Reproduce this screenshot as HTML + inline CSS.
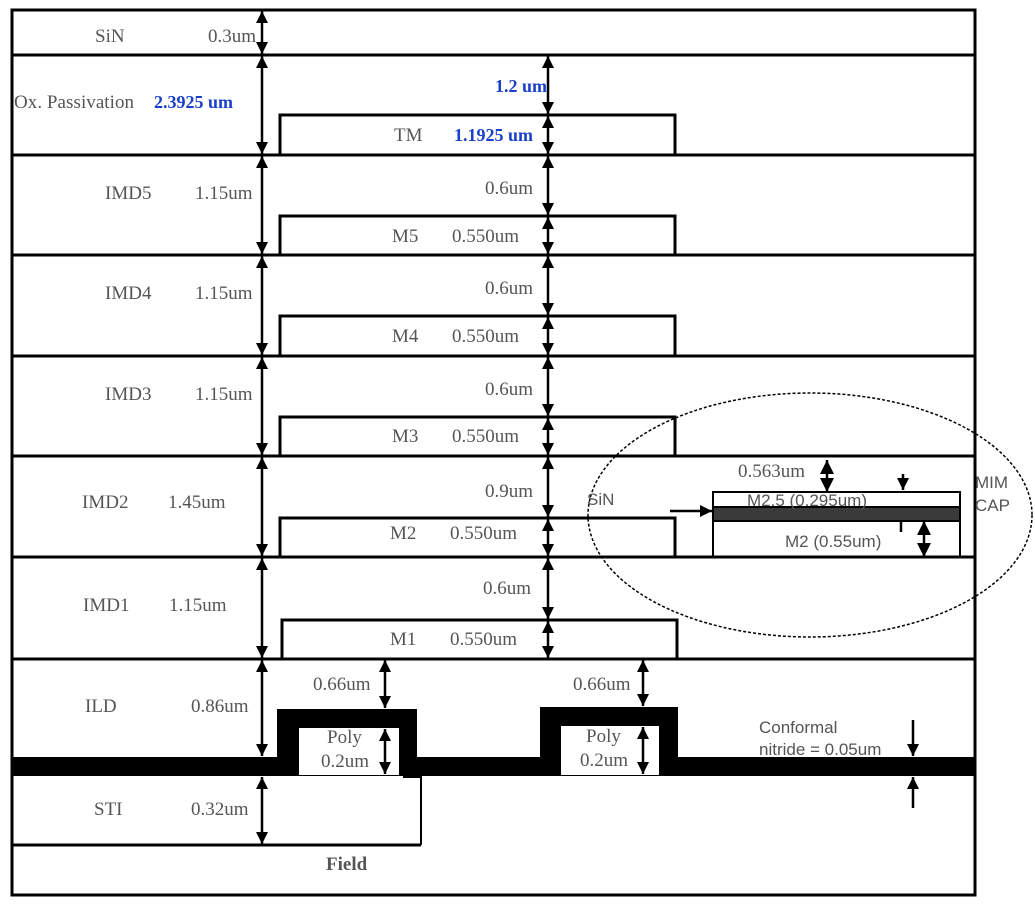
<!DOCTYPE html>
<html><head><meta charset="utf-8"><style>
html,body{margin:0;padding:0;background:#fff;}
svg{display:block}
.t{font-family:"Liberation Serif",serif;font-size:19px;fill:#555}
.b{font-family:"Liberation Serif",serif;font-size:18px;font-weight:bold;fill:#1a3fc8}
.s{font-family:"Liberation Sans",sans-serif;font-size:17px;fill:#555}
</style></head><body>
<svg width="1035" height="908" viewBox="0 0 1035 908" xmlns="http://www.w3.org/2000/svg">
<defs>
<marker id="A" viewBox="0 0 10 10" refX="10" refY="5" markerWidth="12" markerHeight="12" orient="auto-start-reverse" markerUnits="userSpaceOnUse"><path d="M0,0L10,5L0,10z" fill="#000"/></marker>
<marker id="S" viewBox="0 0 10 10" refX="10" refY="5" markerWidth="14" markerHeight="14" orient="auto-start-reverse" markerUnits="userSpaceOnUse"><path d="M0,0L10,5L0,10z" fill="#000"/></marker>
</defs>
<g stroke="#000" stroke-width="3" fill="none">
<rect x="12" y="10" width="963" height="885"/>
<line x1="12" y1="55" x2="975" y2="55"/>
<line x1="12" y1="155" x2="975" y2="155"/>
<line x1="12" y1="255" x2="975" y2="255"/>
<line x1="12" y1="356" x2="975" y2="356"/>
<line x1="12" y1="456" x2="975" y2="456"/>
<line x1="12" y1="557" x2="975" y2="557"/>
<line x1="12" y1="659" x2="975" y2="659"/>
<line x1="12" y1="845" x2="421" y2="845"/>
<line x1="421" y1="775" x2="421" y2="845" stroke-width="2"/>
<polyline points="280,155 280,115 675,115 675,155"/>
<polyline points="280,255 280,216 675,216 675,255"/>
<polyline points="280,356 280,316 675,316 675,356"/>
<polyline points="280,456 280,417 675,417 675,456"/>
<polyline points="280,557 280,518 675,518 675,557"/>
<polyline points="282,659 282,620 677,620 677,659"/>
</g>
<g fill="#000">
<rect x="12" y="757" width="963" height="19"/>
<rect x="277" y="709" width="140" height="66"/>
<rect x="403" y="770" width="18" height="8"/>
<rect x="540" y="707" width="138" height="68"/>
</g>
<g fill="#fff">
<rect x="299" y="728" width="100" height="47"/>
<rect x="561" y="726" width="98" height="49"/>
</g>
<g stroke="#000" stroke-width="2.5" marker-start="url(#A)" marker-end="url(#A)">
<line x1="262" y1="11" x2="262" y2="54"/>
<line x1="262" y1="56" x2="262" y2="154"/>
<line x1="262" y1="156" x2="262" y2="254"/>
<line x1="262" y1="256" x2="262" y2="355"/>
<line x1="262" y1="357" x2="262" y2="455"/>
<line x1="262" y1="457" x2="262" y2="556"/>
<line x1="262" y1="558" x2="262" y2="658"/>
<line x1="262" y1="660" x2="262" y2="756"/>
<line x1="262" y1="777" x2="262" y2="844"/>
<line x1="548" y1="56" x2="548" y2="114"/>
<line x1="548" y1="116" x2="548" y2="154"/>
<line x1="548" y1="156" x2="548" y2="215"/>
<line x1="548" y1="217" x2="548" y2="254"/>
<line x1="548" y1="256" x2="548" y2="315"/>
<line x1="548" y1="317" x2="548" y2="355"/>
<line x1="548" y1="357" x2="548" y2="416"/>
<line x1="548" y1="418" x2="548" y2="455"/>
<line x1="548" y1="457" x2="548" y2="517"/>
<line x1="548" y1="519" x2="548" y2="556"/>
<line x1="548" y1="558" x2="548" y2="619"/>
<line x1="548" y1="621" x2="548" y2="658"/>
<line x1="385" y1="660" x2="385" y2="708"/>
<line x1="385" y1="729" x2="385" y2="774"/>
<line x1="643" y1="660" x2="643" y2="706"/>
<line x1="643" y1="727" x2="643" y2="774"/>
</g>
<g stroke="#000" stroke-width="2.5" marker-end="url(#S)">
<line x1="827" y1="476" x2="827" y2="460"/>
<line x1="827" y1="476" x2="827" y2="492"/>
<line x1="924" y1="538" x2="924" y2="521"/>
<line x1="924" y1="538" x2="924" y2="557"/>
</g>
<g stroke="#000" stroke-width="2.5" marker-end="url(#A)">
<line x1="913" y1="720" x2="913" y2="756"/>
<line x1="913" y1="808" x2="913" y2="777"/>
<line x1="903" y1="474" x2="903" y2="490"/>
<line x1="901" y1="532" x2="901" y2="506"/>
<line x1="670" y1="511" x2="712" y2="511"/>
</g>
<rect x="713" y="492" width="247" height="65" fill="none" stroke="#000" stroke-width="2"/>
<rect x="713" y="507" width="247" height="14" fill="#3a3a3a" stroke="#000" stroke-width="2"/>
<ellipse cx="810" cy="515" rx="222" ry="122" fill="none" stroke="#000" stroke-width="1.5" stroke-dasharray="3,2"/>
<text class="t" x="95" y="42">SiN</text>
<text class="t" x="208" y="42">0.3um</text>
<text class="t" x="14" y="108" textLength="120">Ox. Passivation</text>
<text class="b" x="154" y="108">2.3925 um</text>
<text class="b" x="495" y="92">1.2 um</text>
<text class="t" x="394" y="141">TM</text>
<text class="b" x="454" y="141">1.1925 um</text>
<text class="t" x="105" y="199">IMD5</text><text class="t" x="195" y="199">1.15um</text>
<text class="t" x="485" y="194">0.6um</text>
<text class="t" x="392" y="242">M5</text><text class="t" x="452" y="242">0.550um</text>
<text class="t" x="105" y="299">IMD4</text><text class="t" x="195" y="299">1.15um</text>
<text class="t" x="485" y="294">0.6um</text>
<text class="t" x="392" y="342">M4</text><text class="t" x="452" y="342">0.550um</text>
<text class="t" x="105" y="400">IMD3</text><text class="t" x="195" y="400">1.15um</text>
<text class="t" x="485" y="395">0.6um</text>
<text class="t" x="392" y="442">M3</text><text class="t" x="452" y="442">0.550um</text>
<text class="t" x="82" y="508">IMD2</text><text class="t" x="168" y="508">1.45um</text>
<text class="t" x="485" y="497">0.9um</text>
<text class="t" x="390" y="539">M2</text><text class="t" x="450" y="539">0.550um</text>
<text class="t" x="83" y="611">IMD1</text><text class="t" x="169" y="611">1.15um</text>
<text class="t" x="483" y="594">0.6um</text>
<text class="t" x="390" y="645">M1</text><text class="t" x="450" y="645">0.550um</text>
<text class="t" x="85" y="712">ILD</text><text class="t" x="191" y="712">0.86um</text>
<text class="t" x="313" y="690">0.66um</text>
<text class="t" x="573" y="690">0.66um</text>
<text class="t" x="327" y="743">Poly</text><text class="t" x="321" y="767">0.2um</text>
<text class="t" x="586" y="742">Poly</text><text class="t" x="580" y="766">0.2um</text>
<text class="t" x="94" y="815">STI</text><text class="t" x="191" y="815">0.32um</text>
<text class="t" x="326" y="870" style="font-weight:bold">Field</text>
<text class="t" x="738" y="477">0.563um</text>
<text class="s" x="587" y="505">SiN</text>
<text class="s" x="747" y="506">M2.5 (0.295um)</text>
<text class="s" x="785" y="547">M2 (0.55um)</text>
<text class="s" x="975" y="488">MIM</text>
<text class="s" x="975" y="511">CAP</text>
<text class="s" x="759" y="733">Conformal</text>
<text class="s" x="759" y="755">nitride = 0.05um</text>
</svg>
</body></html>
